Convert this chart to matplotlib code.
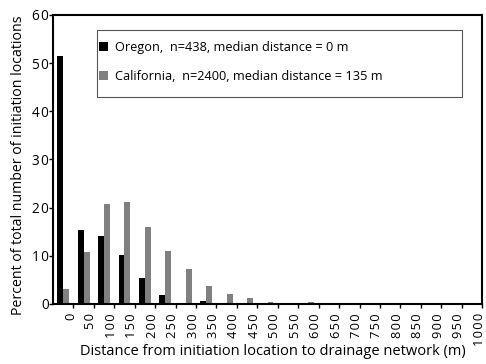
import numpy as np
import matplotlib
matplotlib.use('Agg')
import matplotlib.pyplot as plt
import matplotlib.transforms as mtransforms
from matplotlib.patches import Rectangle

plt.rcParams['font.family'] = ['Open Sans', 'DejaVu Sans']

# --- Distance bins (m) and percent of initiation locations per bin
distances = list(range(0, 1001, 50))
oregon = [51.4, 15.3, 14.1, 10.2, 5.4, 1.9, 0.25, 0.6, 0.0, 0.15,
          0, 0, 0, 0, 0, 0, 0, 0, 0, 0, 0]
california = [3.0, 10.7, 20.8, 21.1, 16.0, 11.0, 7.3, 3.75, 2.1, 1.3,
              0.35, 0.2, 0.3, 0.05, 0, 0, 0, 0, 0, 0, 0]

label_or = 'Oregon,  n=438, median distance = 0 m'
label_ca = 'California,  n=2400, median distance = 135 m'


def spaced(v):
    # digits in the original are letter-spaced
    return '\u200a'.join(str(v))


# %% Plot
fig = plt.figure(figsize=(4.86, 3.64), dpi=100)
ax = fig.add_axes([0.109, 0.165, 0.883, 0.794])

x = np.arange(len(oregon))
w = 0.29
ax.bar(x - w / 2, oregon, w, color='black', label=label_or)
ax.bar(x + w / 2, california, w, color='#808080', label=label_ca)

ax.set_xlim(-0.5, 20.5)
ax.set_ylim(0, 60)
yt = range(0, 61, 10)
ax.set_yticks(yt)
ax.set_yticklabels([spaced(v) for v in yt], fontsize=9.8)
ax.set_xticks(x + 0.5)
ax.set_xticklabels([spaced(d) for d in distances], rotation=90, fontsize=9.3)

for s in ax.spines.values():
    s.set_linewidth(1.5)
ax.tick_params(direction='out', length=3, width=1)
ax.tick_params(axis='x', pad=3.5)
ax.tick_params(axis='y', pad=0)

# nudge x tick labels a little left, as in the original
shift = mtransforms.ScaledTranslation(-3 / 100, 0, fig.dpi_scale_trans)
for lab in ax.get_xticklabels():
    lab.set_transform(lab.get_transform() + shift)

ax.set_xlabel('Distance from initiation location to drainage network (m)',
              fontsize=10.5)
ax.xaxis.set_label_coords(0.512, -0.138)
ax.set_ylabel('Percent of total number of initiation locations',
              fontsize=10.2)
ax.yaxis.set_label_coords(-0.063, 0.48)

# legend frame drawn separately so the entries can sit close to its left edge
ax.add_patch(Rectangle((0.103, 0.716), 0.851, 0.232, transform=ax.transAxes,
                       facecolor='white', edgecolor='#555555', lw=0.8,
                       zorder=4))
leg = ax.legend(loc='upper left', bbox_to_anchor=(0.108, 0.911),
                fontsize=9.2, frameon=False,
                handlelength=0.7, handleheight=0.7, handletextpad=0.5,
                labelspacing=1.3, borderpad=0, borderaxespad=0)
leg.set_zorder(5)

fig.savefig('out.png', dpi=100)
